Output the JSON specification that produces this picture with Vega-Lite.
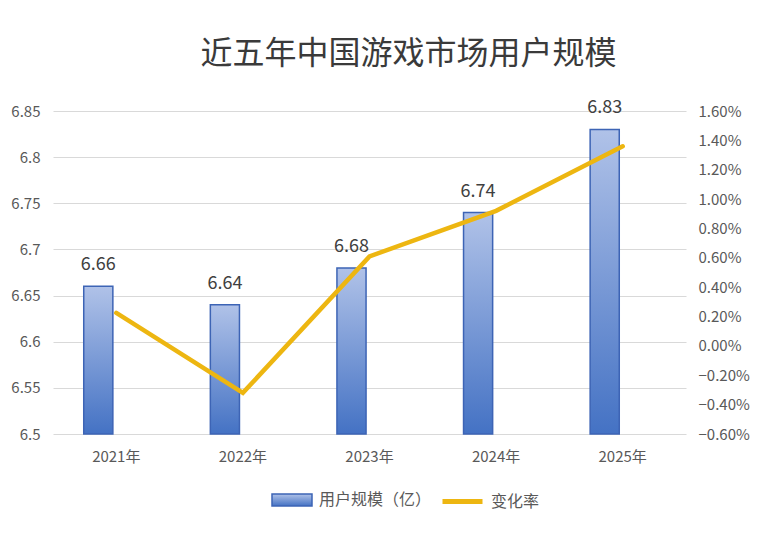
{
  "$schema": "https://vega.github.io/schema/vega-lite/v6.json",
  "width": 633,
  "height": 323,
  "autosize": {"type": "none"},
  "padding": {"left": 53, "top": 111, "right": 72, "bottom": 111},
  "background": "white",
  "title": {
    "text": "近五年中国游戏市场用户规模",
    "font": "Noto Sans CJK SC",
    "fontSize": 32,
    "fontWeight": "normal",
    "color": "#3a3a3a",
    "anchor": "middle",
    "dx": 39,
    "offset": 28
  },
  "data": {
    "values": [
      {"year": "2021年", "users": 6.66, "rate": 0.00225},
      {"year": "2022年", "users": 6.64, "rate": -0.0032},
      {"year": "2023年", "users": 6.68, "rate": 0.0061},
      {"year": "2024年", "users": 6.74, "rate": 0.0092},
      {"year": "2025年", "users": 6.83, "rate": 0.0136}
    ]
  },
  "encoding": {
    "x": {
      "field": "year",
      "type": "nominal",
      "sort": null,
      "scale": {"paddingInner": 0, "paddingOuter": 0},
      "axis": {
        "title": null,
        "labelAngle": 0,
        "domain": false,
        "ticks": false,
        "labelPadding": 15,
        "labelFont": "Noto Sans CJK SC",
        "labelFontSize": 15,
        "labelColor": "#595959"
      }
    }
  },
  "layer": [
    {
      "encoding": {
        "y": {
          "field": "users",
          "type": "quantitative",
          "scale": {"domain": [6.5, 6.85], "zero": false, "nice": false},
          "axis": {
            "title": null,
            "orient": "left",
            "values": [6.5, 6.55, 6.6, 6.65, 6.7, 6.75, 6.8, 6.85],
            "format": ".2~f",
            "domain": false,
            "ticks": false,
            "labelPadding": 13,
            "labelFont": "Noto Sans CJK SC",
            "labelFontSize": 15,
            "labelColor": "#595959",
            "grid": true,
            "gridColor": "#d9d9d9",
            "gridWidth": 1.2
          }
        }
      },
      "layer": [
        {
          "mark": {
            "type": "bar",
            "width": {"band": 0.23},
            "xOffset": -18,
            "strokeWidth": 1.5,
            "fill": {
              "gradient": "linear",
              "x1": 0, "y1": 0, "x2": 0, "y2": 1,
              "stops": [
                {"offset": 0, "color": "#b0c2e8"},
                {"offset": 1, "color": "#4472c4"}
              ]
            }
          },
          "encoding": {
            "y2": {"datum": 6.5},
            "stroke": {
              "datum": "用户规模（亿）",
              "type": "nominal",
              "scale": {"range": ["#3d64b5"]},
              "legend": {
                "title": null,
                "orient": "none",
                "legendX": 218,
                "legendY": 368,
                "padding": 0,
                "symbolType": "M-1,-0.3H1V0.3H-1Z",
                "symbolSize": 1600,
                "symbolStrokeWidth": 1.5,
                "labelFont": "Noto Sans CJK SC",
                "labelFontSize": 16,
                "labelColor": "#595959",
                "labelOffset": 6
              }
            }
          }
        },
        {
          "mark": {
            "type": "text",
            "xOffset": -18,
            "dy": -12,
            "baseline": "bottom",
            "font": "Noto Sans CJK SC",
            "fontSize": 18,
            "color": "#404040"
          },
          "encoding": {
            "text": {"field": "users", "type": "quantitative", "format": ".2f"}
          }
        }
      ]
    },
    {
      "mark": {"type": "line", "strokeWidth": 4.5, "strokeCap": "round", "strokeJoin": "miter"},
      "encoding": {
        "y": {
          "field": "rate",
          "type": "quantitative",
          "scale": {"domain": [-0.006, 0.016], "zero": false, "nice": false},
          "axis": {
            "title": null,
            "orient": "right",
            "values": [-0.006, -0.004, -0.002, 0, 0.002, 0.004, 0.006, 0.008, 0.01, 0.012, 0.014, 0.016],
            "format": ".2%",
            "domain": false,
            "ticks": false,
            "grid": false,
            "labelPadding": 12,
            "labelFont": "Noto Sans CJK SC",
            "labelFontSize": 15,
            "labelColor": "#595959"
          }
        },
        "stroke": {
          "datum": "变化率",
          "type": "nominal",
          "scale": {"range": ["#EDB611"]},
          "legend": {
            "title": null,
            "orient": "none",
            "legendX": 387,
            "legendY": 368,
            "padding": 0,
            "symbolType": "stroke",
            "symbolSize": 1600,
            "symbolStrokeWidth": 5,
            "labelFont": "Noto Sans CJK SC",
            "labelFontSize": 16,
            "labelColor": "#595959",
            "labelOffset": 6
          }
        }
      }
    }
  ],
  "resolve": {"scale": {"y": "independent", "stroke": "independent"}, "legend": {"stroke": "independent"}},
  "config": {
    "view": {"stroke": null}
  }
}
